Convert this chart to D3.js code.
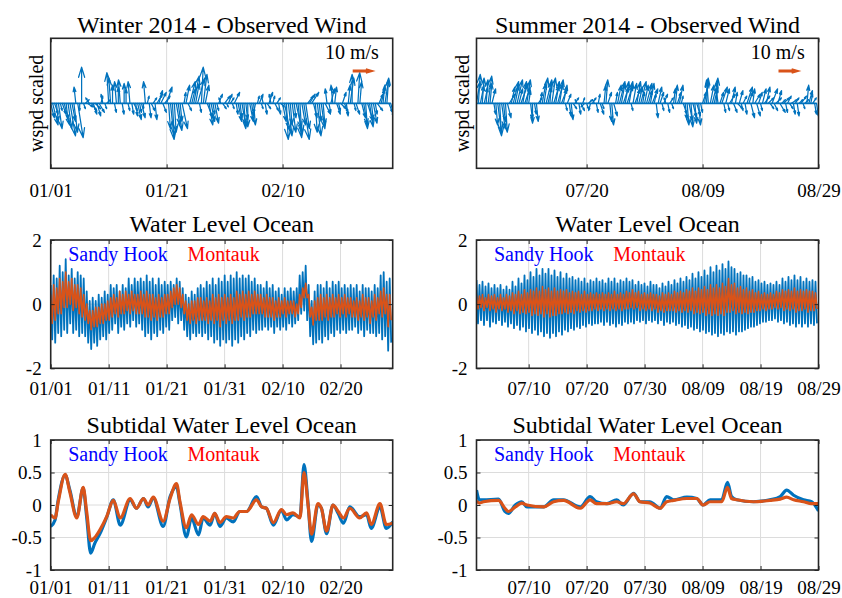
<!DOCTYPE html>
<html><head><meta charset="utf-8">
<script src="https://cdn.jsdelivr.net/npm/d3@7"></script>
<style>
html,body{margin:0;padding:0;background:#fff;}
svg{display:block;}
</style></head><body>
<svg id="chart" width="842" height="598"></svg>
<script>
// ---------- tick labels ----------
const winterTicksTop = ["01/01", "01/21", "02/10"];
const winterTicksMid = ["01/01", "01/11", "01/21", "01/31", "02/10", "02/20"];
const summerTicksTop = ["07/20", "08/09", "08/29"];
const summerTicksMid = ["07/10", "07/20", "07/30", "08/09", "08/19", "08/29"];
const waterTicks = [-2, 0, 2];
const subtidalTicks = [-1, -0.5, 0, 0.5, 1];
const stationNames = ["Sandy Hook", "Montauk"];

// ---------- observed wind (m/s), three samples per day ----------
const windWinterU = [2,3,2, 1,2,1, 2,3,1, 2,3,2, 2,-1,3, 0,0,1, 2,3,-2, 3,2,3, 2,3,1, -1,1,2, -1,-1,0, 1,-1,0, -1,1,0, 0,1,-1, 1,2,1, 2,1,2, 0,-1,1, 1,2,2, 1,3,2, 3,2,3, 3,1,2, 1,1,2, 2,1,3, 1,2,2, 3,2,3, 2,4,1, 1,2,2, 3,2,2, 1,2,1, 2,-1,2, 3,1,2, 2,1,3, 1,2,1, 2,1,1, 0,2,1, 1,-1,1, 2,1,-1, 1,2,2, -1,1,2, 2,1,2, 2,3,1, 2,1,2, 1,3,2, 1,2,3, 2,3,3, 4,2,1, 2,1,2, 1,3,-1, 1,2,-1, 1,2,1, 3,2,2, 1,1,2, 0,1,2, 1,1,2, 2,1,3, 2,1,2, 1,3,2, 2,1,2, 1,2,2];
const windWinterV = [-8,-12,-6, -10,-14,-4, -6,-12,-9, -14,-18,-10, -16,9,-19, -4,20,-3, 2,-2,3, -4,-6,-3, -7,-5,4, 5,-3,2, 17,14,10, -5,12,9, 13,-6,11, 8,-4,12, -6,-4,-7, -9,-5,-8, -3,12,4, -8,-4,3, -9,5,7, 6,-5,4, 9,-14,-20, -18,-16,-12, -15,-10,-14, 6,10,-4, 12,8,15, 11,14,-5, 20,16,10, -8,-12,-10, -6,-11,-4, 5,3,-3, 4,-2,5, 3,-3,6, -6,-10,-8, -12,-14,-9, -13,-10,-7, -12,-5,4, 5,-3,4, -6,-3,6, 5,4,-4, 3,-6,-2, -10,-15,-20, -18,-12,-16, -8,-14,-19, -17,-12,-20, -14,4,5, 6,-8,-16, -18,-10,-14, -12,-6,8, -5,8,10, 9,-6,-4, -3,6,-5, -7,10,14, 16,-4,-6, 17,12,-8, -12,-14,-10, -13,-9,-11, -6,-4,5, 8,10,13, 14,-5,-8];
const windSummerU = [2,1,2, 1,2,1, 2,1,2, 1,1,2, 1,2,1, 1,2,3, 2,3,2, 3,2,4, 2,3,2, 1,1,0, 1,1,2, 1,2,2, 3,2,1, 2,3,2, 3,2,3, 2,1,2, 1,1,2, 2,-1,1, 2,1,-2, 1,2,-1, 2,-1,1, 1,2,1, 1,1,2, 1,1,2, 1,2,3, 2,3,2, 3,2,1, 2,3,2, 2,3,1, 2,3,2, 2,3,1, 1,2,2, 1,2,-1, 1,2,1, 1,1,2, 2,1,2, 1,1,2, 1,2,1, 2,1,1, 2,2,1, -1,2,3, 2,1,-1, 2,3,1, 2,1,3, 2,2,1, 3,2,1, 2,1,3, 2,2,1, 3,2,2, 1,2,3, 2,3,2, 3,2,3, 2,3,2, 3,1,2, 2,3,1, 2,1,2, 3,1,2, 1,2,1, 2,1,1];
const windSummerV = [12,16,10, 14,9,13, 15,11,8, -6,-12,-16, -18,-14,-10, -16,-8,5, 9,12,10, 13,8,11, 12,9,13, 7,-9,-11, -6,-10,3, 6,11,14, 12,9,13, 14,10,12, 11,13,8, 10,-4,5, -7,-9,-3, 3,2,-6, -4,3,-2, -3,2,-4, 3,2,-5, 5,-6,-3, 10,13,6, -10,-12,-7, 6,10,12, 11,9,12, 10,12,-4, 11,8,12, 9,12,6, 10,11,7, 11,8,5, -8,9,6, -4,5,3, -5,3,-3, 8,10,6, 10,4,-6, -9,-12,-10, -13,-8,-11, -7,-12,-5, 6,12,14, 13,10,12, 9,14,8, 6,9,-5, 8,-4,5, 9,-5,6, -3,7,-4, 4,-6,9, 6,-8,8, 5,-7,6, -4,8,4, 9,3,-3, 8,-4,3, 7,-5,2, 3,-5,4, -3,2,-6, 3,-7,2, 4,-3,2, 10,7,5, 3,-6,-7];
const windPerDay = 3;
const windRefSpeed = 10;

// ---------- water level (m): successive high and low water of each tidal cycle ----------
const tidalPeriodHours = 12.42;
const wlWinterSandyHigh = [0.6,0.9,0.8,1.2,1.0,1.4,0.9,1.1,0.8,1.0, 0.9,0.8,0.4,0.1,0.2,0.1,0.3,0.2,0.4,0.3, 0.6,0.5,0.6,0.4,0.6,0.5,0.8,0.6,0.8,0.7, 0.8,0.7,0.9,0.7,0.8,0.6,0.8,0.6,0.7,0.6, 0.7,0.6,0.8,0.7,0.5,0.3,0.2,0.4,0.3,0.5, 0.6,0.5,0.7,0.6,0.8,0.6,0.8,0.7,0.9,0.7, 0.9,0.8,1.0,0.8,0.9,0.8,0.9,0.7,0.8,0.6, 0.6,0.5,0.7,0.5,0.6,0.4,0.5,0.3,0.5,0.4, 0.5,0.4,0.5,0.9,1.0,1.2,0.6,0.1,0.4,0.6, 0.6,0.5,0.7,0.5,0.7,0.6,0.7,0.5,0.6,0.5, 0.6,0.5,0.6,0.4,0.6,0.5,0.5,0.4,0.6,0.5, 0.9,1.0,0.7,0.8];
const wlWinterSandyLow = [-1.1,-1.2,-0.9,-1.0,-0.8,-0.9,-0.6,-0.9,-0.8,-1.0, -0.9,-1.0,-1.2,-1.4,-1.2,-1.3,-1.1,-1.0,-1.1,-0.9, -0.8,-0.6,-0.9,-0.7,-0.8,-0.6,-0.7,-0.5,-0.7,-0.6, -0.8,-1.0,-0.9,-1.1,-0.9,-1.0,-0.8,-0.9,-0.7,-0.8, -0.5,-0.4,-0.6,-0.5,-0.8,-1.0,-1.1,-0.9,-1.0,-0.9, -1.0,-0.9,-1.1,-1.0,-1.2,-1.1,-1.3,-1.1,-1.2,-1.1, -1.3,-1.1,-1.2,-1.0,-1.1,-0.9,-1.0,-0.8,-0.9,-0.8, -0.8,-0.7,-0.8,-0.7,-0.9,-0.7,-0.8,-0.7,-0.8,-0.6, -0.7,-0.6,-0.5,-0.3,-0.2,-0.5,-1.0,-1.25,-1.2,-1.1, -1.2,-1.0,-1.1,-0.9,-1.0,-0.8,-0.9,-0.8,-0.9,-0.8, -0.8,-0.7,-0.9,-0.8,-1.0,-0.8,-0.9,-0.9,-1.0,-0.9, -1.1,-1.0,-1.45,-1.2];
const wlWinterMontaukHigh = [0.3,0.6,0.5,0.8,0.7,1.0,0.7,0.8,0.6,0.6, 0.5,0.3,0.0,-0.2,-0.2,-0.1,-0.1,0.0,0.0,0.1, 0.2,0.3,0.2,0.4,0.3,0.4,0.3,0.4,0.3,0.3, 0.4,0.3,0.4,0.3,0.3,0.2,0.3,0.2,0.3,0.3, 0.4,0.5,0.6,0.5,0.3,0.1,0.0,0.1,0.1,0.2, 0.2,0.1,0.2,0.1,0.3,0.2,0.3,0.2,0.3,0.2, 0.3,0.2,0.4,0.3,0.4,0.3,0.4,0.3,0.4,0.3, 0.3,0.2,0.3,0.2,0.2,0.1,0.2,0.1,0.2,0.1, 0.1,0.1,0.0,0.3,0.5,0.65,0.3,-0.1,0.1,0.2, 0.3,0.2,0.3,0.2,0.3,0.2,0.3,0.2,0.3,0.2, 0.2,0.1,0.2,0.1,0.3,0.2,0.2,0.1,0.3,0.2, 0.4,0.5,0.3,0.3];
const wlWinterMontaukLow = [-0.6,-0.5,-0.3,-0.3,-0.1,-0.1,0.0,-0.2,-0.1,-0.3, -0.4,-0.5,-0.6,-0.8,-0.7,-0.7,-0.6,-0.6,-0.5,-0.5, -0.4,-0.3,-0.4,-0.3,-0.3,-0.2,-0.3,-0.2,-0.3,-0.3, -0.3,-0.4,-0.4,-0.5,-0.4,-0.5,-0.4,-0.4,-0.3,-0.3, -0.1,0.0,0.0,-0.1,-0.3,-0.5,-0.6,-0.5,-0.6,-0.5, -0.5,-0.5,-0.6,-0.5,-0.6,-0.5,-0.7,-0.5,-0.6,-0.5, -0.6,-0.5,-0.5,-0.4,-0.5,-0.4,-0.4,-0.3,-0.3,-0.3, -0.3,-0.4,-0.4,-0.4,-0.5,-0.4,-0.4,-0.3,-0.4,-0.3, -0.3,-0.4,-0.3,-0.1,0.2,0.2,-0.4,-0.65,-0.5,-0.5, -0.5,-0.4,-0.5,-0.4,-0.4,-0.3,-0.4,-0.3,-0.4,-0.3, -0.4,-0.4,-0.5,-0.4,-0.5,-0.4,-0.6,-0.4,-0.5,-0.3, -0.4,-0.3,-0.7,-0.5];
const wlSummerSandyHigh = [0.75,0.6,0.7,0.55,0.65,0.5,0.6,0.5,0.6,0.45, 0.55,0.45,0.7,0.55,0.8,0.65,0.9,0.75,1.0,0.85, 1.1,0.9,1.1,0.95,1.1,0.9,1.05,0.85,1.0,0.8, 0.95,0.8,0.85,0.75,0.8,0.7,0.8,0.65,0.75,0.7, 0.8,0.7,0.75,0.65,0.8,0.7,0.8,0.65,0.75,0.7, 0.8,0.7,0.75,0.6,0.7,0.6,0.65,0.55,0.7,0.6, 0.6,0.5,0.65,0.55,0.7,0.6,0.75,0.65,0.8,0.7, 0.85,0.75,0.95,0.8,1.0,0.85,1.05,0.9,1.15,1.0, 1.2,1.05,1.25,1.1,1.33,1.15,1.1,0.95,1.0,0.9, 0.9,0.8,0.85,0.7,0.75,0.65,0.7,0.6,0.65,0.6, 0.7,0.6,0.8,0.7,0.85,0.75,0.9,0.75,0.85,0.7, 0.8,0.7,0.75,0.7];
const wlSummerSandyLow = [-0.6,-0.5,-0.65,-0.5,-0.7,-0.55,-0.6,-0.5,-0.65,-0.55, -0.7,-0.6,-0.75,-0.65,-0.8,-0.7,-0.85,-0.75,-0.9,-0.8, -0.95,-0.85,-1.0,-0.9,-1.05,-0.9,-1.0,-0.85,-0.95,-0.8, -0.85,-0.75,-0.8,-0.7,-0.75,-0.65,-0.7,-0.6,-0.65,-0.6, -0.6,-0.55,-0.65,-0.55,-0.65,-0.6,-0.7,-0.6,-0.65,-0.55, -0.6,-0.55,-0.6,-0.5,-0.55,-0.5,-0.6,-0.5,-0.55,-0.5, -0.6,-0.5,-0.65,-0.55,-0.6,-0.55,-0.65,-0.6,-0.7,-0.65, -0.75,-0.7,-0.8,-0.75,-0.85,-0.8,-0.9,-0.85,-0.95,-0.9, -1.0,-0.9,-0.95,-0.85,-0.9,-0.85,-0.95,-0.85,-0.85,-0.8, -0.75,-0.7,-0.7,-0.65,-0.6,-0.55,-0.55,-0.5,-0.5,-0.45, -0.55,-0.5,-0.6,-0.55,-0.65,-0.6,-0.7,-0.6,-0.7,-0.6, -0.7,-0.6,-0.65,-0.6];
const wlSummerMontaukHigh = [0.3,0.25,0.3,0.2,0.3,0.25,0.3,0.2,0.3,0.2, 0.3,0.25,0.35,0.3,0.4,0.3,0.45,0.35,0.45,0.4, 0.5,0.4,0.55,0.45,0.5,0.4,0.5,0.4,0.45,0.4, 0.45,0.35,0.4,0.35,0.4,0.3,0.4,0.3,0.35,0.3, 0.35,0.3,0.35,0.3,0.35,0.3,0.4,0.3,0.35,0.3, 0.4,0.35,0.45,0.35,0.4,0.3,0.35,0.3,0.35,0.3, 0.3,0.25,0.35,0.3,0.35,0.3,0.4,0.35,0.4,0.35, 0.45,0.4,0.5,0.4,0.5,0.45,0.55,0.45,0.6,0.5, 0.6,0.5,0.65,0.55,0.8,0.6,0.65,0.5,0.55,0.45, 0.5,0.4,0.45,0.35,0.4,0.3,0.35,0.3,0.35,0.3, 0.4,0.35,0.45,0.4,0.45,0.4,0.5,0.4,0.45,0.4, 0.45,0.4,0.4,0.35];
const wlSummerMontaukLow = [-0.15,-0.1,-0.2,-0.1,-0.2,-0.15,-0.25,-0.15,-0.2,-0.15, -0.25,-0.2,-0.3,-0.2,-0.3,-0.25,-0.3,-0.25,-0.35,-0.3, -0.35,-0.3,-0.4,-0.3,-0.4,-0.35,-0.35,-0.3,-0.3,-0.25, -0.3,-0.25,-0.3,-0.2,-0.25,-0.2,-0.25,-0.2,-0.2,-0.15, -0.2,-0.15,-0.2,-0.15,-0.2,-0.15,-0.2,-0.15,-0.2,-0.15, -0.15,-0.1,-0.15,-0.1,-0.2,-0.15,-0.2,-0.15,-0.2,-0.15, -0.25,-0.2,-0.25,-0.2,-0.2,-0.2,-0.25,-0.2,-0.25,-0.2, -0.25,-0.2,-0.3,-0.25,-0.3,-0.25,-0.35,-0.3,-0.35,-0.3, -0.35,-0.3,-0.35,-0.25,-0.25,-0.2,-0.3,-0.25,-0.3,-0.25, -0.3,-0.25,-0.25,-0.2,-0.2,-0.15,-0.2,-0.15,-0.15,-0.1, -0.15,-0.1,-0.2,-0.15,-0.2,-0.15,-0.25,-0.2,-0.2,-0.15, -0.25,-0.2,-0.2,-0.15];

// ---------- subtidal water level (m) at day offsets from the season start ----------
const subWinterDays = [0,0.75,1.3,2.5,3.3,4.5,5.6,6.2,6.9,7.6, 8.5,9.7,10.8,12,13.7, 14.8,16,16.8,17.7,19.4, 20.6,21.7,22.3,23.4,24.3, 25.5,26.3,27.5,28.3,29.2, 30.3,31.5,32.6,33.8,35.5, 36.4,37.2,38.4,39.8,40.7, 41.8,43,43.7,44.4,45, 46.1,46.7,47.6,48.7,49.6, 50.5,51.6,53.3,54.5,55.3, 56.8,57.9,59];
const subWinterSandy = [-0.33,-0.23,0.08,0.46,0.23,-0.18,0.26,-0.18,-0.74,-0.59, -0.44,-0.18,0.08,-0.31,0.08, -0.05,0.1,-0.03,0.11,-0.33, 0.13,0.28,0.02,-0.49,-0.2, -0.46,-0.2,-0.31,-0.13,-0.33, -0.2,-0.26,-0.1,-0.1,0.13, -0.03,-0.05,-0.31,-0.08,-0.23, -0.15,-0.18,0.62,0.02,-0.56, 0,-0.05,-0.44,0,-0.13, -0.28,-0.03,-0.18,-0.15,-0.36, -0.03,-0.36,-0.26];
const subWinterMontauk = [-0.15,-0.2,0.05,0.47,0.2,-0.2,0.27,-0.1,-0.55,-0.5, -0.38,-0.17,0.07,-0.2,0.1, -0.05,0.1,0,0.12,-0.25, 0.1,0.33,0.05,-0.35,-0.15, -0.3,-0.18,-0.25,-0.13,-0.27, -0.18,-0.2,-0.1,-0.1,0.08, -0.03,-0.05,-0.27,-0.07,-0.15, -0.12,-0.2,0.5,0,-0.45, 0.02,-0.05,-0.4,0,-0.1, -0.2,-0.05,-0.2,-0.12,-0.3, 0.02,-0.3,-0.28];
const subSummerDays = [0,0.5,1.2,3.8,4.9,5.5,6.7,7.8,8.7,11.6, 13.3,15,17.9,19.6,20.7,22.5,24.2,25.3,27.1,28.2, 29.9,31.7,32.8,34,36.3,38,39.1,40.3,42.3,43.3, 44,44.9,47.8,50.6,52.4,53.5,54.7,56.4,57.8,59];
const subSummerSandy = [0.23,0.08,0.08,0.09,-0.1,-0.13,0,0.05,-0.03,-0.03, 0.08,0.08,-0.03,0.13,0.05,0.02,0.08,0,0.18,0.05, 0.05,-0.05,0.13,0.08,0.12,0.1,0,0.08,0.08,0.35, 0.13,0.08,0.05,0.08,0.13,0.23,0.15,0.08,0.05,-0.09];
const subSummerMontauk = [0.06,0.03,0.05,0.07,-0.05,-0.1,-0.03,0.03,0,-0.03, 0.05,0.07,-0.05,0.08,0.02,0.02,0.05,0.02,0.17,0.05, 0.03,-0.05,0.05,0.07,0.1,0.1,0,0.05,0.05,0.27, 0.1,0.08,0.05,0.07,0.09,0.12,0.08,0.05,0.02,0.02];

// ---------- layout & style ----------
const BLUE = "#0072BD", ORANGE = "#D95319", INK = "#262626", GRID = "#dcdcdc";
const FONT = '"Liberation Serif","Times New Roman",serif';
const cols = [{l: 50.7, r: 392.7}, {l: 476.5, r: 818.5}];
const rows = [{t: 38.3, b: 168.3}, {t: 240, b: 368.3}, {t: 440, b: 570}];
const parse = d3.timeParse("%m/%d/%Y");
const md = s => parse(s + "/2014");

const seasons = [
  {name: "Winter", start: "01/01", end: "03/01", topTicks: winterTicksTop, midTicks: winterTicksMid,
   windU: windWinterU, windV: windWinterV,
   wl: [[wlWinterSandyHigh, wlWinterSandyLow], [wlWinterMontaukHigh, wlWinterMontaukLow]],
   subDays: subWinterDays, sub: [subWinterSandy, subWinterMontauk]},
  {name: "Summer", start: "07/01", end: "08/29", topTicks: summerTicksTop, midTicks: summerTicksMid,
   windU: windSummerU, windV: windSummerV,
   wl: [[wlSummerSandyHigh, wlSummerSandyLow], [wlSummerMontaukHigh, wlSummerMontaukLow]],
   subDays: subSummerDays, sub: [subSummerSandy, subSummerMontauk]}
];

const svg = d3.select("#chart");
let clipId = 0;

function styleAxis(sel, size) {
  sel.select(".domain").remove();
  sel.selectAll(".tick line").attr("stroke", INK).attr("stroke-width", 1);
  sel.selectAll(".tick text").attr("fill", "#000").style("font-family", FONT).style("font-size", size + "px");
}

// Grid, clip region and container for one axes
function makeAxes(c, r, x, y, xt, yt) {
  const g = svg.append("g");
  g.append("g").selectAll("line").data(xt).join("line")
    .attr("x1", d => x(d)).attr("x2", d => x(d)).attr("y1", r.t).attr("y2", r.b)
    .attr("stroke", GRID).attr("stroke-width", 1);
  if (y && yt) {
    g.append("g").selectAll("line").data(yt).join("line")
      .attr("x1", c.l).attr("x2", c.r).attr("y1", d => y(d)).attr("y2", d => y(d))
      .attr("stroke", GRID).attr("stroke-width", 1);
  }
  const id = "clip" + (clipId++);
  g.append("clipPath").attr("id", id).append("rect")
    .attr("x", c.l).attr("y", r.t).attr("width", c.r - c.l).attr("height", r.b - r.t);
  const plot = g.append("g").attr("clip-path", `url(#${id})`);
  return {g, plot};
}

function finishAxes(g, c, r, x, y, xt, yt, labelPad) {
  g.append("g").attr("transform", `translate(0,${r.b})`)
    .call(d3.axisBottom(x).tickValues(xt).tickFormat(d3.timeFormat("%m/%d")).tickSize(-4).tickPadding(labelPad))
    .call(s => styleAxis(s, 19));
  g.append("g").attr("transform", `translate(0,${r.t})`)
    .call(d3.axisTop(x).tickValues(xt).tickFormat("").tickSize(-4))
    .call(s => styleAxis(s, 19));
  if (y && yt) {
    g.append("g").attr("transform", `translate(${c.l},0)`)
      .call(d3.axisLeft(y).tickValues(yt).tickFormat(d => String(d)).tickSize(-4).tickPadding(9))
      .call(s => styleAxis(s, 19));
    g.append("g").attr("transform", `translate(${c.r},0)`)
      .call(d3.axisRight(y).tickValues(yt).tickFormat("").tickSize(-4))
      .call(s => styleAxis(s, 19));
  }
  g.append("rect").attr("x", c.l).attr("y", r.t).attr("width", c.r - c.l).attr("height", r.b - r.t)
    .attr("fill", "none").attr("stroke", INK).attr("stroke-width", 1.6);
}

function title(c, baseline, text) {
  svg.append("text").attr("x", (c.l + c.r) / 2).attr("y", baseline).attr("text-anchor", "middle")
    .style("font-family", FONT).style("font-size", "24px").attr("fill", "#000").text(text);
}

function legend(c, baseline) {
  const cols2 = ["#0000FF", "#FF0000"], offs = [17.5, 136.8];
  stationNames.forEach((n, i) => {
    svg.append("text").attr("x", c.l + offs[i]).attr("y", baseline)
      .style("font-family", FONT).style("font-size", "20px").attr("fill", cols2[i]).text(n);
  });
}

// quiver arrow path (MATLAB-style heads) in wind units, converted to px
function arrowPath(x0, y0, u, v, kp) {
  const a = 0.28, b = 0.3;
  const P = (du, dv) => [x0 + du * kp, y0 - dv * kp];
  const tip = P(u, v);
  const h1 = P(u - a * (u + b * v), v - a * (v - b * u));
  const h2 = P(u - a * (u - b * v), v - a * (v + b * u));
  return `M${x0},${y0}L${tip[0]},${tip[1]}M${h1[0]},${h1[1]}L${tip[0]},${tip[1]}L${h2[0]},${h2[1]}`;
}

seasons.forEach((s, ci) => {
  const c = cols[ci];
  const t0 = md(s.start), t1 = md(s.end);
  const x = d3.scaleTime().domain([t0, t1]).range([c.l, c.r]);
  const at = d => new Date(+t0 + d * 864e5);
  const topT = s.topTicks.map(md), midT = s.midTicks.map(md);

  // ---- wind quiver ----
  {
    const r = rows[0];
    const yW = d3.scaleLinear().domain([-36, 36]).range([r.b, r.t]);
    const kp = yW(0) - yW(1);
    const {g, plot} = makeAxes(c, r, x, null, topT, null);
    const n = Math.min(s.windU.length, s.windV.length);
    const samples = d3.range(n).map(k => ({t: at(k / windPerDay), u: s.windU[k], v: s.windV[k]}));
    plot.append("path")
      .attr("d", d3.line().x(d => x(d.t)).y(() => yW(0))(samples))
      .attr("stroke", BLUE).attr("stroke-width", 1.8).attr("fill", "none");
    plot.append("g").selectAll("path").data(samples).join("path")
      .attr("d", d => arrowPath(x(d.t), yW(0), d.u, d.v, kp))
      .attr("stroke", BLUE).attr("stroke-width", 1.25).attr("fill", "none")
      .attr("stroke-linecap", "round").attr("stroke-linejoin", "round");
    finishAxes(g, c, r, x, null, topT, null, 15);
    title(c, 32.5, `${s.name} 2014 - Observed Wind`);
    svg.append("text").attr("transform", `translate(${c.l - 7.7},${(r.t + r.b) / 2}) rotate(-90)`)
      .attr("text-anchor", "middle").style("font-family", FONT).style("font-size", "20px")
      .attr("fill", "#000").text("wspd scaled");
    svg.append("text").attr("x", c.r - 67.7).attr("y", 59.3)
      .style("font-family", FONT).style("font-size", "20px").attr("fill", "#000").text(`${windRefSpeed} m/s`);
    svg.append("path").attr("d", arrowPath(c.r - 40, 71, windRefSpeed, 0, kp))
      .attr("stroke", ORANGE).attr("stroke-width", 2.8).attr("fill", "none");
  }

  // ---- water level with tides ----
  {
    const r = rows[1];
    const y = d3.scaleLinear().domain([-2, 2]).range([r.b, r.t]);
    const {g, plot} = makeAxes(c, r, x, y, midT, waterTicks);
    const P = tidalPeriodHours / 24;
    const widths = [1.8, 1.6], colors = [BLUE, ORANGE];
    s.wl.forEach(([hi, lo], si) => {
      const pts = [];
      for (let i = 0; i < Math.min(hi.length, lo.length); i++) {
        pts.push({t: at(i * P), v: hi[i]});
        pts.push({t: at(i * P + P / 2), v: lo[i]});
      }
      plot.append("path").attr("d", d3.line().x(d => x(d.t)).y(d => y(d.v))(pts))
        .attr("stroke", colors[si]).attr("stroke-width", widths[si]).attr("fill", "none")
        .attr("stroke-linejoin", "round");
    });
    finishAxes(g, c, r, x, y, midT, waterTicks, 13);
    title(c, 232.3, "Water Level Ocean");
    legend(c, 261);
  }

  // ---- subtidal water level ----
  {
    const r = rows[2];
    const y = d3.scaleLinear().domain([-1, 1]).range([r.b, r.t]);
    const {g, plot} = makeAxes(c, r, x, y, midT, subtidalTicks);
    const colors = [BLUE, ORANGE];
    s.sub.forEach((vals, si) => {
      const pts = s.subDays.map((d, i) => ({t: at(d), v: vals[i]}));
      plot.append("path")
        .attr("d", d3.line().curve(d3.curveMonotoneX).x(d => x(d.t)).y(d => y(d.v))(pts))
        .attr("stroke", colors[si]).attr("stroke-width", 3.2).attr("fill", "none")
        .attr("stroke-linejoin", "round");
    });
    finishAxes(g, c, r, x, y, midT, subtidalTicks, 10.5);
    title(c, 432.5, "Subtidal Water Level Ocean");
    legend(c, 460.7);
  }
});
</script>
</body></html>
